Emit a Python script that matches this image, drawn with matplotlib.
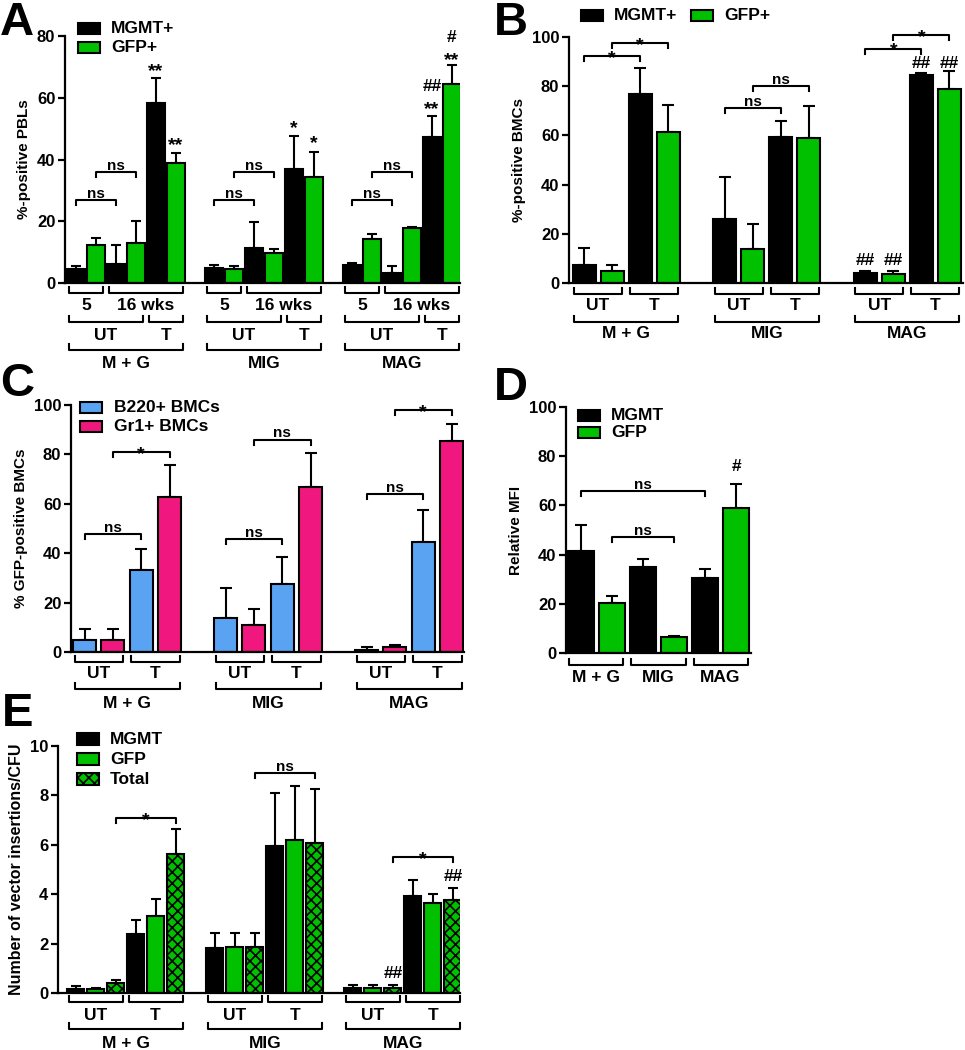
import matplotlib
matplotlib.use('Agg')
import numpy as np
import matplotlib.pyplot as plt
from matplotlib.transforms import blended_transform_factory, offset_copy
from matplotlib.patches import Rectangle

plt.rcParams['font.family'] = ['Liberation Sans', 'DejaVu Sans']
plt.rcParams['font.weight'] = 'bold'
plt.rcParams['hatch.linewidth'] = 1.2

GREEN = '#00c000'
BLUE = '#5aa2f2'
PINK = '#f0187e'

groups = ['M + G', 'MIG', 'MAG']

# panel A: %-positive PBLs, order per group = 5 wk UT, 16 wk UT, 16 wk T
a_mgmt = [[4.6, 6.3, 58.2], [4.8, 11.2, 36.8], [5.8, 3.4, 47.4]]
a_mgmt_sem = [[0.8, 6.0, 8.3], [0.9, 8.6, 10.8], [0.6, 2.2, 6.8]]
a_gfp = [[12.4, 12.8, 39.0], [4.6, 9.7, 34.2], [14.2, 17.7, 64.6]]
a_gfp_sem = [[2.1, 7.4, 3.0], [0.8, 1.4, 8.1], [1.6, 0.5, 6.0]]
a_brackets = [(g, 0, 2, 26.8, 'ns') for g in range(3)] + [(g, 1, 3, 35.8, 'ns') for g in range(3)]
a_marks = [(0, 4, 70.3, '**'), (0, 5, 46.3, '**'), (1, 4, 51.7, '*'), (1, 5, 47.0, '*'),
           (2, 4, 58.0, '**'), (2, 4, 63.6, '##'), (2, 5, 73.8, '**'), (2, 5, 79.6, '#')]

# panel B: %-positive BMCs, UT / T
b_mgmt = [[7.2, 77.0], [26.1, 59.2], [4.2, 84.5]]
b_mgmt_sem = [[7.0, 10.3], [16.9, 6.8], [0.8, 0.9]]
b_gfp = [[5.0, 61.2], [14.0, 58.8], [3.6, 78.9]]
b_gfp_sem = [[2.4, 11.1], [10.0, 13.1], [1.4, 7.3]]
b_brackets = [(0, 0, 2, 92.2, '*'), (0, 1, 3, 97.6, '*'), (1, 0, 2, 71.0, 'ns'),
              (1, 1, 3, 80.1, 'ns'), (2, 0, 2, 95.3, '*'), (2, 1, 3, 100.8, '*')]
b_marks = [(2, 0, 9.0, '##'), (2, 1, 9.0, '##'), (2, 2, 89.2, '##'), (2, 3, 89.2, '##')]

# panel C: % GFP-positive BMCs, UT / T
c_b220 = [[5.0, 33.0], [13.8, 27.6], [1.0, 44.7]]
c_b220_sem = [[4.5, 8.6], [12.1, 10.7], [1.0, 12.6]]
c_gr1 = [[5.0, 62.7], [11.0, 66.8], [2.2, 85.4]]
c_gr1_sem = [[4.2, 13.2], [6.3, 13.6], [0.6, 6.9]]
c_brackets = [(0, 0, 2, 47.8, 'ns'), (0, 1, 3, 81.0, '*'), (1, 0, 2, 45.8, 'ns'),
              (1, 1, 3, 86.0, 'ns'), (2, 0, 2, 63.8, 'ns'), (2, 1, 3, 98.0, '*')]

# panel D: relative MFI
d_mgmt = [41.5, 35.0, 30.4]
d_mgmt_sem = [10.7, 3.2, 3.6]
d_gfp = [20.3, 6.4, 58.9]
d_gfp_sem = [2.7, 0.4, 10.0]

# panel E: vector insertions/CFU, UT / T
e_mgmt = [[0.18, 2.40], [1.82, 5.95], [0.20, 3.93]]
e_mgmt_sem = [[0.12, 0.57], [0.61, 2.13], [0.11, 0.66]]
e_gfp = [[0.16, 3.10], [1.86, 6.19], [0.22, 3.65]]
e_gfp_sem = [[0.03, 0.72], [0.57, 2.19], [0.09, 0.35]]
e_total = [[0.40, 5.62], [1.85, 6.07], [0.20, 3.78]]
e_total_sem = [[0.11, 1.00], [0.58, 2.17], [0.11, 0.49]]
e_brackets = [(0, 2, 5, 7.07, '*'), (1, 2, 5, 8.9, 'ns'), (2, 2, 5, 5.5, '*')]
e_marks = [(2, 2, 0.78, '##'), (2, 5, 4.72, '##')]

W, H = 965, 1050
fig = plt.figure(figsize=(W / 100, H / 100), dpi=100)


def px_axes(l, t, r, b):
    return fig.add_axes([l / W, 1 - b / H, (r - l) / W, (b - t) / H])


def style(ax, ylim, ticks, ylabel, lsize=11):
    ax.set_ylim(*ylim)
    ax.set_yticks(ticks)
    ax.set_xticks([])
    for s in ['top', 'right']:
        ax.spines[s].set_visible(False)
    for s in ['left', 'bottom']:
        ax.spines[s].set_linewidth(1.6)
    ax.spines['left'].set_bounds(ticks[0], ticks[-1])
    ax.tick_params(axis='y', length=5, width=1.6, labelsize=12, pad=2)
    for lab in ax.get_yticklabels():
        lab.set_fontweight('bold')
    ax.set_ylabel(ylabel, fontsize=lsize, fontweight='bold', labelpad=4)


def bars(ax, x, h, sem, color, width, cap, hatch=None):
    ax.bar(x, h, width=width, color=color, edgecolor='black', linewidth=1.5,
           hatch=hatch, zorder=2)
    ax.errorbar(x, h, yerr=[np.zeros(len(h)), sem], fmt='none', ecolor='black',
                elinewidth=1.5, capsize=cap, capthick=1.5, zorder=1)


def px2y(ax, p):
    y0, y1 = ax.get_ylim()
    return p * (y1 - y0) / (ax.get_position().height * H)


def px2x(ax, p):
    x0, x1 = ax.get_xlim()
    return p * (x1 - x0) / (ax.get_position().width * W)


def star_fs(text):
    if '*' in text:
        return 14
    if '#' in text:
        return 12.5
    return 11


def sig(ax, x1, x2, y, text, drop=5):
    d = px2y(ax, drop)
    ax.plot([x1, x1, x2, x2], [y - d, y, y, y - d], color='black', lw=1.5,
            clip_on=False, zorder=3)
    off = -5 if '*' in text else 1.5
    tr = offset_copy(ax.transData, fig=fig, y=off, units='points')
    ax.text((x1 + x2) / 2, y, text, transform=tr, ha='center', va='baseline',
            fontsize=star_fs(text), fontweight='bold')


def mark(ax, x, y, text):
    off = -4 if '*' in text else 0
    tr = offset_copy(ax.transData, fig=fig, y=off, units='points')
    ax.text(x, y, text, transform=tr, ha='center', va='center', fontsize=star_fs(text),
            fontweight='bold')


def under(ax, x1, x2, py, label, lpy, up=6, fs=12.5):
    tr = blended_transform_factory(ax.transData, fig.transFigure)
    ins = px2x(ax, 1.5)
    x1, x2 = x1 + ins, x2 - ins
    y = 1 - py / H
    yt = 1 - (py - up) / H
    ax.plot([x1, x1, x2, x2], [yt, y, y, yt], transform=tr, color='black', lw=1.5,
            clip_on=False)
    ax.text((x1 + x2) / 2, 1 - lpy / H, label, transform=tr, ha='center', va='center',
            fontsize=fs, fontweight='bold')


def legend_box(px, py, w, h, color, label, tx, hatch=None):
    r = Rectangle((px / W, 1 - (py + h) / H), w / W, h / H, transform=fig.transFigure,
                  facecolor=color, edgecolor='black', lw=1.5, hatch=hatch)
    fig.patches.append(r)
    fig.text(tx / W, 1 - (py + h / 2) / H, label, ha='left', va='center', fontsize=12.5,
             fontweight='bold')


# ---------------- A ----------------
axA = px_axes(65, 36, 460, 283)
style(axA, (0, 80), [0, 20, 40, 60, 80], '%-positive PBLs')
offA = [0, 6.9, 13.8]
axA.set_xlim(-0.55, 19.2)
wA = 0.88
for g in range(3):
    xs = offA[g] + np.arange(6)
    bars(axA, xs[0::2], a_mgmt[g], a_mgmt_sem[g], 'black', wA, 3.5)
    bars(axA, xs[1::2], a_gfp[g], a_gfp_sem[g], GREEN, wA, 3.5)
    h = wA / 2
    under(axA, xs[0] - h, xs[1] + h, 293, '5', 306)
    under(axA, xs[2] - h, xs[5] + h, 293, '16 wks', 306)
    under(axA, xs[0] - h, xs[3] + h, 322, 'UT', 335)
    under(axA, xs[4] - h, xs[5] + h, 322, 'T', 335)
    under(axA, xs[0] - h, xs[5] + h, 350, groups[g], 364)
for g, i, j, y, t in a_brackets:
    sig(axA, offA[g] + i, offA[g] + j, y, t)
for g, i, y, t in a_marks:
    mark(axA, offA[g] + i, y, t)
legend_box(78, 23, 22, 11, 'black', 'MGMT+', 111)
legend_box(78, 42, 22, 11, GREEN, 'GFP+', 111)

# ---------------- B ----------------
axB = px_axes(569, 37, 963, 283)
style(axB, (0, 100), [0, 20, 40, 60, 80, 100], '%-positive BMCs')
offB = [0, 5.03, 10.05]
axB.set_xlim(-0.54, 13.54)
wB = 0.82
for g in range(3):
    xs = offB[g] + np.arange(4)
    bars(axB, xs[0::2], b_mgmt[g], b_mgmt_sem[g], 'black', wB, 4.5)
    bars(axB, xs[1::2], b_gfp[g], b_gfp_sem[g], GREEN, wB, 4.5)
    h = wB / 2
    under(axB, xs[0] - h, xs[1] + h, 294, 'UT', 306)
    under(axB, xs[2] - h, xs[3] + h, 294, 'T', 306)
    under(axB, xs[0] - h, xs[3] + h, 322, groups[g], 334)
for g, i, j, y, t in b_brackets:
    sig(axB, offB[g] + i, offB[g] + j, y, t)
for g, i, y, t in b_marks:
    mark(axB, offB[g] + i, y, t)
legend_box(581, 10, 22, 11, 'black', 'MGMT+', 614)
legend_box(691, 10, 22, 11, GREEN, 'GFP+', 724)

# ---------------- C ----------------
axC = px_axes(71, 405, 464, 652)
style(axC, (0, 100), [0, 20, 40, 60, 80, 100], '% GFP-positive BMCs')
offC = [0, 4.98, 9.96]
axC.set_xlim(-0.48, 13.4)
wC = 0.81
for g in range(3):
    xs = offC[g] + np.arange(4)
    bars(axC, xs[0::2], c_b220[g], c_b220_sem[g], BLUE, wC, 4.5)
    bars(axC, xs[1::2], c_gr1[g], c_gr1_sem[g], PINK, wC, 4.5)
    h = wC / 2
    under(axC, xs[0] - h, xs[1] + h, 662, 'UT', 674)
    under(axC, xs[2] - h, xs[3] + h, 662, 'T', 674)
    under(axC, xs[0] - h, xs[3] + h, 689, groups[g], 703)
for g, i, j, y, t in c_brackets:
    sig(axC, offC[g] + i, offC[g] + j, y, t)
legend_box(80, 402, 22, 11, BLUE, 'B220+ BMCs', 114)
legend_box(80, 421, 22, 11, PINK, 'Gr1+ BMCs', 114)

# ---------------- D ----------------
axD = px_axes(566, 407, 751, 653)
style(axD, (0, 100), [0, 20, 40, 60, 80, 100], 'Relative MFI')
axD.set_xlim(-0.48, 5.48)
wD = 0.84
xs = np.arange(6)
bars(axD, xs[0::2], d_mgmt, d_mgmt_sem, 'black', wD, 4.5)
bars(axD, xs[1::2], d_gfp, d_gfp_sem, GREEN, wD, 4.5)
for g in range(3):
    under(axD, xs[2 * g] - wD / 2, xs[2 * g + 1] + wD / 2, 665, groups[g], 677)
sig(axD, 0, 4, 66.0, 'ns')
sig(axD, 1, 3, 47.3, 'ns')
mark(axD, 5, 75.7, '#')
legend_box(578, 410, 22, 11, 'black', 'MGMT', 611)
legend_box(578, 427, 22, 11, GREEN, 'GFP', 611)

# ---------------- E ----------------
axE = px_axes(58, 746, 460, 993)
style(axE, (0, 10), [0, 2, 4, 6, 8, 10], 'Number of vector insertions/CFU', lsize=11.5)
offE = [0, 6.95, 13.85]
axE.set_xlim(-0.875, 19.2)
wE = 0.85
for g in range(3):
    xs = offE[g] + np.arange(6)
    bars(axE, xs[[0, 3]], e_mgmt[g], e_mgmt_sem[g], 'black', wE, 3.5)
    bars(axE, xs[[1, 4]], e_gfp[g], e_gfp_sem[g], GREEN, wE, 3.5)
    bars(axE, xs[[2, 5]], e_total[g], e_total_sem[g], GREEN, wE, 3.5, hatch='xxx')
    h = wE / 2
    under(axE, xs[0] - h, xs[2] + h, 1002, 'UT', 1015)
    under(axE, xs[3] - h, xs[5] + h, 1002, 'T', 1015)
    under(axE, xs[0] - h, xs[5] + h, 1029, groups[g], 1043)
for g, i, j, y, t in e_brackets:
    sig(axE, offE[g] + i, offE[g] + j, y, t)
for g, i, y, t in e_marks:
    mark(axE, offE[g] + i, y, t)
legend_box(77, 733, 22, 12, 'black', 'MGMT', 110)
legend_box(77, 753, 22, 12, GREEN, 'GFP', 110)
legend_box(77, 773, 22, 12, GREEN, 'Total', 110, hatch='xxx')

# panel letters
for x, y, s in [(0, 1, 'A'), (494, 1, 'B'), (0, 362, 'C'), (494, 366, 'D'), (2, 692, 'E')]:
    fig.text(x / W, 1 - y / H, s, ha='left', va='top', fontsize=34, fontweight='bold')

fig.savefig('out.png', dpi=100)
